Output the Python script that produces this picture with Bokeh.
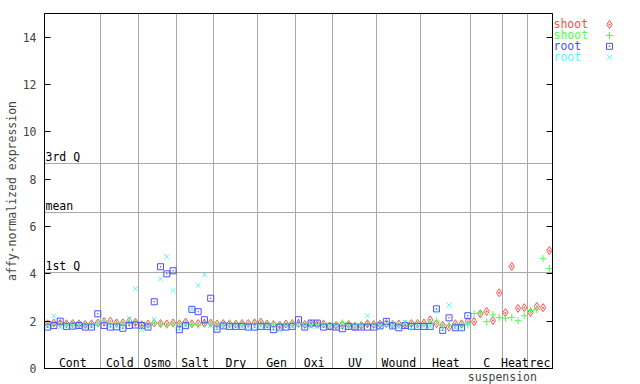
from bokeh.plotting import figure
from bokeh.models import LinearAxis, FixedTicker, Range1d, ColumnDataSource, Grid
from bokeh.layouts import row
from bokeh.embed import file_html
from bokeh.resources import INLINE
from bokeh.core.properties import value
import numpy as np

# ---------------- data ----------------
groups = ["Cont", "Cold", "Osmo", "Salt", "Dry", "Gen", "Oxi", "UV", "Wound",
          "Heat", "C", "Heat", "rec"]
group_sizes = [9, 6, 6, 6, 7, 6, 6, 7, 7, 8, 5, 4, 4]
extra_label = "suspension"          # second line of the "C" group label
extra_label_group = 10

y_ticks = [0, 2, 4, 6, 8, 10, 12, 14]
q_values = [4.06, 6.6, 8.67]
q_labels = ["1st Q", "mean", "3rd Q"]

series_names = ["shoot", "shoot", "root", "root"]

shoot_red = [
    1.89, 1.92, 1.90, 1.89, 1.90, 1.89, 1.86, 1.89, 1.92,
    1.98, 2.00, 1.93, 1.93, 2.00, 1.95,
    1.85, 1.88, 1.92, 1.90, 1.88, 1.92,
    1.89, 1.96, 1.89, 1.90, 1.91, 1.92,
    1.88, 1.90, 1.89, 1.88, 1.90, 1.90, 1.93,
    1.96, 1.88, 1.86, 1.84, 1.88, 1.90,
    1.90, 1.86, 1.88, 1.87, 1.88, 1.78,
    1.82, 1.85, 1.86, 1.78, 1.82, 1.89, 1.86,
    1.88, 1.90, 1.86, 1.88, 1.86, 1.90, 1.90,
    1.92, 2.06, 1.89, 1.83, 1.75, 1.89, 1.89, 1.99,
    1.98, 2.31, 2.41, 2.03, 3.20,
    2.36, 4.31, 2.54, 2.57,
    2.37, 2.62, 2.57, 4.98,
]
shoot_green = [
    1.86, 1.90, 1.84, 1.87, 1.89, 1.89, 1.85, 1.87, 1.89,
    1.92, 1.89, 1.90, 1.89, 1.92, 1.96,
    1.83, 1.82, 1.92, 1.89, 1.83, 1.89,
    1.89, 1.90, 1.86, 1.83, 1.90, 1.89,
    1.90, 1.88, 1.90, 1.89, 1.88, 1.90, 1.90,
    1.90, 1.89, 1.88, 1.86, 1.87, 1.91,
    1.89, 1.82, 1.86, 1.87, 1.87, 1.84,
    1.82, 1.93, 1.87, 1.84, 1.84, 1.86, 1.88,
    1.89, 1.88, 1.89, 1.87, 1.90, 1.88, 1.89,
    1.89, 1.92, 2.00, 1.81, 1.82, 1.83, 1.85, 1.85,
    2.32, 2.35, 1.98, 2.27, 2.15,
    2.13, 2.16, 2.02, 2.23,
    2.45, 2.49, 4.64, 4.23,
]
root_blue = [
    1.75, 1.82, 2.00, 1.78, 1.79, 1.82, 1.75, 1.75, 2.31,
    1.82, 1.75, 1.76, 1.70, 1.82, 1.84,
    1.82, 1.75, 2.82, 4.30, 4.00, 4.13,
    1.64, 1.81, 2.50, 2.40, 2.06, 2.97,
    1.66, 1.80, 1.78, 1.78, 1.78, 1.75, 1.75,
    1.78, 1.78, 1.64, 1.75, 1.75, 1.78,
    2.06, 1.75, 1.92, 1.92, 1.75, 1.78,
    1.75, 1.68, 1.78, 1.75, 1.75, 1.75, 1.75,
    1.80, 1.99, 1.80, 1.72, 1.82, 1.78, 1.78,
    1.78, 1.78, 2.52, 1.61, 2.14, 1.72, 1.72, 2.23,
]
root_cyan = [
    1.80, 2.21, 1.75, 1.80, 1.80, 1.82, 1.78, 1.80, 1.89,
    2.03, 1.82, 1.80, 1.78, 2.11, 3.37,
    1.64, 1.78, 2.08, 3.79, 4.72, 3.30,
    1.68, 1.81, 2.50, 3.51, 3.96, 1.82,
    1.70, 1.80, 1.80, 1.80, 1.78, 1.75, 1.78,
    1.78, 1.80, 1.70, 1.61, 1.78, 1.80,
    1.86, 1.80, 1.78, 1.78, 1.80, 1.80,
    1.78, 1.75, 1.78, 1.78, 1.80, 2.23, 1.80,
    1.82, 1.86, 1.80, 1.76, 1.95, 1.72, 1.78,
    1.78, 1.80, 2.43, 1.70, 2.68, 1.72, 1.70, 1.92,
]

# ---------------- styles ----------------
FONT = "DejaVu Sans Mono"
FS = "11.5px"
RED, GREEN, BLUE, CYAN = "#ff4d4d", "#4dff4d", "#4d4dff", "#5cf5f5"
GRID = "#a8a8a8"
colors = [RED, GREEN, BLUE, CYAN]
markers = ["diamond_dot", "cross", "square_dot", "x"]
sizes = [8, 7, 6, 7]

TOP, BOTTOM, LEFT = 13, 16, 44
FRAME_W, FRAME_H = 508, 355

n_total = sum(group_sizes)
bounds = np.cumsum([0] + group_sizes)
centers = (bounds[:-1] + bounds[1:]) / 2.0

p = figure(frame_width=FRAME_W, frame_height=FRAME_H, title=None,
           x_range=Range1d(0, n_total), y_range=Range1d(0, 15),
           toolbar_location=None, output_backend="svg",
           x_axis_location=None, y_axis_location=None,
           min_border_left=LEFT, min_border_right=1,
           min_border_top=TOP, min_border_bottom=BOTTOM)
p.outline_line_color = "black"
p.outline_line_alpha = 1.0
p.background_fill_color = "white"
p.border_fill_color = "white"
p.center = [r for r in p.center if not isinstance(r, Grid)]

# grids: group separators and quartile lines
p.add_layout(Grid(dimension=0, ticker=FixedTicker(ticks=[float(b) for b in bounds[1:-1]]),
                  grid_line_color=GRID, grid_line_width=1))
p.add_layout(Grid(dimension=1, ticker=FixedTicker(ticks=q_values),
                  grid_line_color=GRID, grid_line_width=1))

# axes
ya = LinearAxis(ticker=FixedTicker(ticks=y_ticks),
                axis_label="affy-normalized expression",
                major_tick_in=6, major_tick_out=0,
                minor_tick_in=0, minor_tick_out=0,
                major_label_standoff=8, axis_label_standoff=1,
                axis_label_text_font=FONT, axis_label_text_font_size=FS,
                axis_label_text_font_style="normal",
                major_label_text_font=FONT, major_label_text_font_size=FS,
                axis_line_color="black", major_tick_line_color="black")
p.add_layout(ya, "left")

yr = LinearAxis(ticker=FixedTicker(ticks=y_ticks),
                major_tick_in=6, major_tick_out=0,
                minor_tick_in=0, minor_tick_out=0,
                major_label_standoff=0,
                major_label_overrides={t: "" for t in y_ticks},
                major_label_text_font=FONT, major_label_text_font_size=FS,
                axis_line_color="black", major_tick_line_color="black")
p.add_layout(yr, "right")

sus_x = float(bounds[extra_label_group + 1])
xa = LinearAxis(ticker=FixedTicker(ticks=[sus_x]),
                major_label_overrides={sus_x: extra_label},
                major_tick_in=0, major_tick_out=0,
                minor_tick_in=0, minor_tick_out=0,
                major_label_standoff=1,
                major_label_text_font=FONT, major_label_text_font_size=FS,
                axis_line_color="black")
p.add_layout(xa, "below")

# data
all_series = [shoot_red, shoot_green, root_blue, root_cyan]
for vals, col, mk, sz in zip(all_series, colors, markers, sizes):
    xs = np.arange(len(vals)) + 0.5
    p.scatter(xs, vals, marker=mk, size=sz,
              fill_color=None, line_color=col, line_width=1)

# category labels
p.text(x=list(centers), y=[0] * len(groups), text=groups,
       text_font=value(FONT), text_font_size=value(FS),
       text_align="center", text_baseline="bottom", y_offset=1,
       text_color="black")

# quartile labels
p.text(x=[0] * len(q_values), y=q_values, text=q_labels,
       text_font=value(FONT), text_font_size=value(FS),
       text_align="left", text_baseline="bottom", x_offset=1, y_offset=1,
       text_color="black")

# legend panel (its frame is aligned with the main frame by the row layout,
# so its y range is expressed in page pixels from TOP to TOP+FRAME_H)
lg = figure(width=87, height=384, title=None,
            x_range=Range1d(0, 87), y_range=Range1d(TOP + FRAME_H, TOP),
            toolbar_location=None, output_backend="svg",
            x_axis_location=None, y_axis_location=None, min_border=0)
lg.outline_line_color = None
lg.center = [r for r in lg.center if not isinstance(r, Grid)]
ly = [24 + 11 * i for i in range(len(series_names))]
src = ColumnDataSource(dict(x=[0] * 4, mx=[56] * 4, y=ly, t=series_names,
                            c=colors, m=markers, s=sizes))
lg.text(x="x", y="y", text="t", text_color="c", source=src,
        text_font=value(FONT), text_font_size=value(FS),
        text_align="left", text_baseline="middle")
lg.scatter(x="mx", y="y", marker="m", line_color="c", fill_color=None,
           size="s", source=src)

layout = row(p, lg)
open("out.html", "w").write(file_html(layout, INLINE))
